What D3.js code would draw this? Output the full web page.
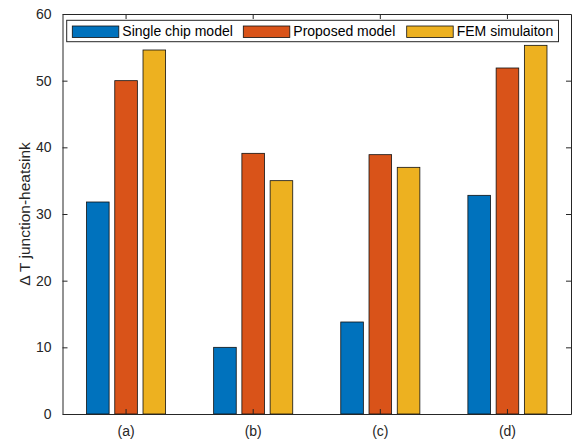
<!DOCTYPE html>
<html>
<head>
<meta charset="utf-8">
<script src="https://cdn.jsdelivr.net/npm/d3@7"></script>
<style>
  body { margin: 0; background: #fff; }
  text { font-family: "Liberation Sans", Arial, sans-serif; }
</style>
</head>
<body>
<script>
// data
var categories = ["(a)", "(b)", "(c)", "(d)"];
var seriesNames = ["Single chip model", "Proposed model", "FEM simulaiton"];
var singleChip = [31.8, 10.0, 13.8, 32.8];
var proposed = [50.0, 39.1, 38.9, 51.9];
var femSim = [54.6, 35.0, 37.0, 55.3];
var yTicks = [0, 10, 20, 30, 40, 50, 60];
var colors = ["#0072BD", "#D95319", "#EDB120"];

var seriesValues = [singleChip, proposed, femSim];

// dimensions
var margin = {top: 14, right: 4, bottom: 30, left: 62.5},
    width = 575 - margin.left - margin.right,
    height = 445 - margin.top - margin.bottom - 1;

var svg = d3.select("body").append("svg")
    .attr("width", 575)
    .attr("height", 445)
  .append("g")
    .attr("transform", "translate(" + margin.left + "," + margin.top + ")");

var axisColor = "#262626";

// scales
var x0 = d3.scaleBand()
    .domain(categories)
    .range([0, width])
    .padding(0);
var groupHalf = x0.bandwidth() * 0.3333;
var x1 = d3.scaleBand()
    .domain(seriesNames)
    .range([-groupHalf, groupHalf])
    .paddingInner(0.2)
    .paddingOuter(0.1);
var y = d3.scaleLinear()
    .domain([0, 60])
    .range([height, 0]);

// bars
var groups = svg.selectAll(".group")
    .data(categories)
  .enter().append("g")
    .attr("class", "group")
    .attr("transform", function(d) {
      return "translate(" + (x0(d) + x0.bandwidth() / 2) + ",0)";
    });

groups.selectAll("rect")
    .data(function(d, i) {
      return seriesNames.map(function(s, j) {
        return {series: s, value: seriesValues[j][i], idx: j};
      });
    })
  .enter().append("rect")
    .attr("x", function(d) { return x1(d.series); })
    .attr("width", x1.bandwidth())
    .attr("y", function(d) { return y(d.value); })
    .attr("height", function(d) { return height - y(d.value); })
    .attr("fill", function(d) { return colors[d.idx]; })
    .attr("stroke", "#111")
    .attr("stroke-width", 0.8);

// axes (ticks inside, mirrored like a boxed plot)
var tickLen = 5;
svg.append("g")
    .attr("transform", "translate(0," + height + ")")
    .call(d3.axisBottom(x0).tickSizeInner(-tickLen).tickSizeOuter(0).tickPadding(12))
    .call(function(g) {
      g.select(".domain").attr("stroke", axisColor);
      g.selectAll(".tick line").attr("stroke", axisColor);
      g.selectAll(".tick text").attr("fill", axisColor).attr("font-size", "14px");
    });

svg.append("g")
    .call(d3.axisTop(x0).tickSizeInner(-tickLen).tickSizeOuter(0).tickFormat(""))
    .call(function(g) {
      g.select(".domain").attr("stroke", axisColor);
      g.selectAll(".tick line").attr("stroke", axisColor);
    });

svg.append("g")
    .call(d3.axisLeft(y).tickValues(yTicks).tickSizeInner(-tickLen).tickSizeOuter(0).tickPadding(11))
    .call(function(g) {
      g.select(".domain").attr("stroke", axisColor);
      g.selectAll(".tick line").attr("stroke", axisColor);
      g.selectAll(".tick text").attr("fill", axisColor).attr("font-size", "14px");
    });

svg.append("g")
    .attr("transform", "translate(" + width + ",0)")
    .call(d3.axisRight(y).tickValues(yTicks).tickSizeInner(-tickLen).tickSizeOuter(0).tickFormat(""))
    .call(function(g) {
      g.select(".domain").attr("stroke", axisColor);
      g.selectAll(".tick line").attr("stroke", axisColor);
    });

// y label
svg.append("text")
    .attr("transform", "rotate(-90)")
    .attr("x", -height / 2)
    .attr("y", -margin.left + 30)
    .attr("text-anchor", "middle")
    .attr("fill", axisColor)
    .attr("font-size", "15.5px")
    .text("\u0394 T junction-heatsink");

// legend
var legend = svg.append("g")
    .attr("transform", "translate(4.2,6.3)");

legend.append("rect")
    .attr("width", 491.8)
    .attr("height", 21.4)
    .attr("fill", "#fff")
    .attr("stroke", axisColor)
    .attr("stroke-width", 1);

var legendX = [5.6, 176.6, 340];
var items = legend.selectAll(".item")
    .data(seriesNames)
  .enter().append("g")
    .attr("class", "item")
    .attr("transform", function(d, i) { return "translate(" + legendX[i] + ",0)"; });

items.append("rect")
    .attr("y", 5.7)
    .attr("width", 46.5)
    .attr("height", 11.5)
    .attr("fill", function(d, i) { return colors[i]; })
    .attr("stroke", "#111")
    .attr("stroke-width", 0.8);

items.append("text")
    .attr("x", 50)
    .attr("y", 16)
    .attr("fill", "#000")
    .attr("font-size", "14px")
    .text(function(d) { return d; });
</script>
</body>
</html>
